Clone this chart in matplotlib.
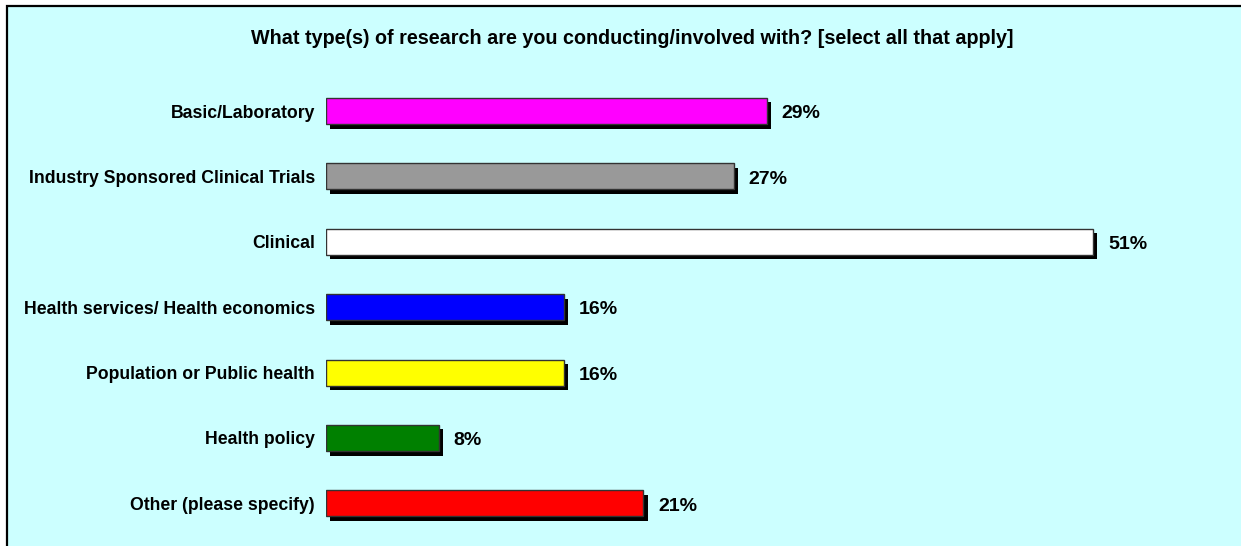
import matplotlib
matplotlib.use('Agg')
from matplotlib import pyplot as plt
from matplotlib import patheffects
from matplotlib.patches import Rectangle

categories = ['Basic/Laboratory', 'Industry Sponsored Clinical Trials', 'Clinical',
              'Health services/ Health economics', 'Population or Public health',
              'Health policy', 'Other (please specify)']
values = [29.3, 27.1, 51, 15.8, 15.8, 7.5, 21.1]
value_labels = ['29%', '27%', '51%', '16%', '16%', '8%', '21%']
bar_colors = ['#FF00FF', '#999999', '#FFFFFF', '#0000FF', '#FFFF00', '#008000', '#FF0000']

plt.rcParams['font.family'] = ['Liberation Sans', 'DejaVu Sans']

W, H = 1241, 546
fig = plt.figure(figsize=(W / 100, H / 100), dpi=100)
fig.patch.set_facecolor('white')

# cyan panel with black border (right/bottom edges run off the picture)
frame = Rectangle((7 / W, -0.1), 1.0, 1.1 - 6 / H, transform=fig.transFigure,
                  facecolor='#CCFFFF', edgecolor='black', linewidth=1.6, zorder=-5)
fig.patches.append(frame)

left_px, px_per_pct = 326, 15.04
top_px, row_px = 111, 65.4
ax = fig.add_axes([left_px / W, 1 - (top_px + 6.5 * row_px) / H,
                   (W - left_px) / W, 7 * row_px / H])
ax.set_zorder(2)
ax.set_facecolor('none')
ax.set_xlim(0, (W - left_px) / px_per_pct)
ax.set_ylim(6.5, -0.5)

y = list(range(len(categories)))
bars = ax.barh(y, values, height=0.4, color=bar_colors, edgecolor='#333333', linewidth=1)
for b in bars:
    b.set_path_effects([patheffects.SimplePatchShadow(offset=(3.2, -3.2), shadow_rgbFace='black', alpha=1),
                        patheffects.Normal()])

for i, (v, lab) in enumerate(zip(values, value_labels)):
    ax.text(v + 15 / px_per_pct, i + 0.04, lab, ha='left', va='center',
            fontsize=14, fontweight='bold')

ax.set_yticks(y)
ax.set_yticklabels(categories, fontsize=12.7, fontweight='bold')
ax.tick_params(axis='y', length=0, pad=8)
ax.set_xticks([])
for s in ax.spines.values():
    s.set_visible(False)

fig.text(632 / W, 1 - 38 / H,
         'What type(s) of research are you conducting/involved with? [select all that apply]',
         ha='center', va='center', fontsize=14.2, fontweight='bold')

fig.savefig('out.png', dpi=100)
